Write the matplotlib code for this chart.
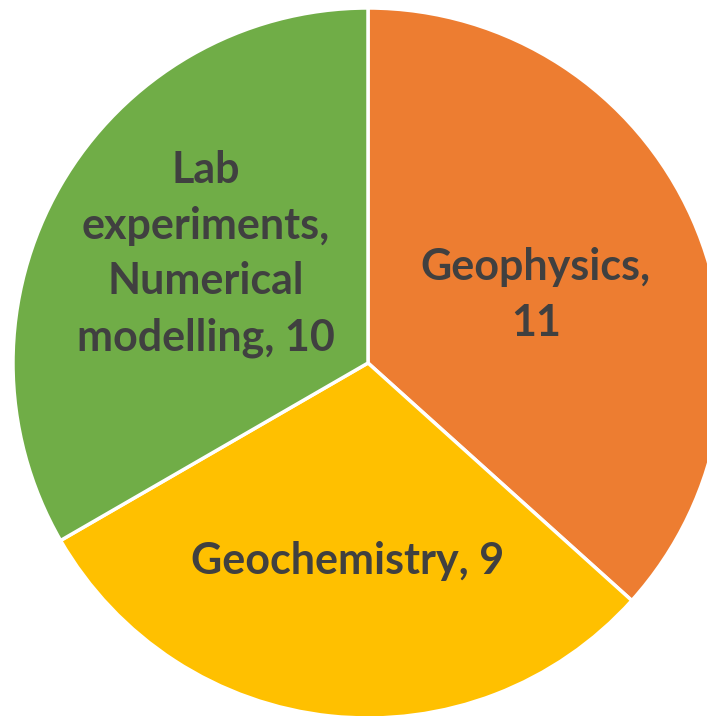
import matplotlib
matplotlib.use("Agg")
import matplotlib.pyplot as plt
import numpy as np

categories = ["Geophysics,\n11", "Geochemistry, 9", "Lab\nexperiments,\nNumerical\nmodelling, 10"]
values = [11, 9, 10]
colors = ["#ED7D31", "#FFC000", "#70AD47"]
label_dist = [0.51, 0.56, 0.55]
label_angle_shift = [-2, 0, -4]

W, H = 707, 716
fig = plt.figure(figsize=(W / 100, H / 100), dpi=100)
ax = fig.add_axes([0, 0, 1, 1])
ax.set_xlim(0, W)
ax.set_ylim(0, H)
ax.set_aspect("equal")
ax.axis("off")

cx, cy, R = 368, H - 363, 355
wedges, texts = ax.pie(values, colors=colors, startangle=90, counterclock=False,
                       center=(cx, cy), radius=R, labels=categories,
                       labeldistance=0.5,
                       wedgeprops=dict(edgecolor="white", linewidth=2.5),
                       textprops=dict(fontsize=31, fontweight="bold", color="#404040",
                                      family="Lato", ha="center", va="center",
                                      linespacing=1.48))
for w, t, d, s in zip(wedges, texts, label_dist, label_angle_shift):
    ang = np.deg2rad((w.theta1 + w.theta2) / 2 + s)
    t.set_position((cx + d * R * np.cos(ang), cy + d * R * np.sin(ang)))
    t.set_ha("center")
    t.set_va("center")
ax.set_xlim(0, W)
ax.set_ylim(0, H)

fig.savefig("out.png", dpi=100)
